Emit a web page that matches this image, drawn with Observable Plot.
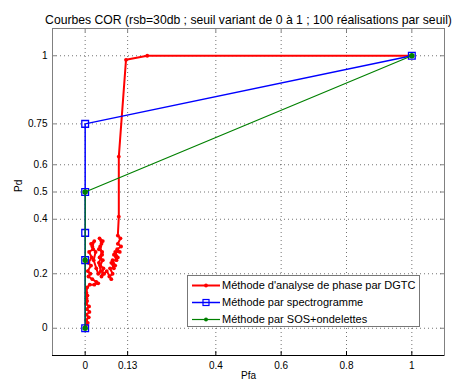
<!DOCTYPE html>
<html><head><meta charset="utf-8">
<script src="https://cdn.jsdelivr.net/npm/d3@7"></script>
<script src="https://cdn.jsdelivr.net/npm/@observablehq/plot@0.6"></script>
<style>
body{margin:0;background:#fff}
svg{font-family:"Liberation Sans",Arial,Helvetica,sans-serif}
</style>
</head><body><div id="chart"></div>
<script>
const titleText = "Courbes COR (rsb=30db ; seuil variant de 0 à 1 ; 100 réalisations par seuil)";
const xLabel = "Pfa";
const yLabel = "Pd";
const xTicks = [0, 0.13, 0.4, 0.6, 0.8, 1];
const yTicks = [0, 0.2, 0.4, 0.5, 0.6, 0.75, 1];
const seriesNames = ["Méthode d'analyse de phase par DGTC", "Méthode par spectrogramme", "Méthode par SOS+ondelettes"];
const seriesColors = ["#ff0000", "#0000ff", "#008000"];

// Méthode DGTC (red)
const redPfa = [1.00, 0.19, 0.125, 0.103, 0.103, 0.100,
  0.108, 0.100, 0.110, 0.098, 0.106, 0.092, 0.100, 0.088, 0.096, 0.084, 0.092, 0.080, 0.088, 0.076, 0.084, 0.074, 0.080,
  0.066, 0.058,
  0.050, 0.056, 0.046, 0.054, 0.044, 0.052, 0.042, 0.050, 0.044, 0.054, 0.046, 0.052, 0.042, 0.048, 0.040,
  0.034,
  0.026, 0.032, 0.022, 0.028, 0.018, 0.024, 0.012, 0.020, 0.010, 0.018, 0.008, 0.016, 0.010, 0.022, 0.034, 0.040, 0.028, 0.014,
  0.006, 0.004, 0.007, 0.004, 0.006, 0.003, 0.012, 0.005, 0.013, 0.004, 0.011, 0.003, 0.008, 0.002, 0.000];
const redPd  = [1.00, 1.00, 0.985, 0.63, 0.41, 0.34,
  0.33, 0.31, 0.30, 0.29, 0.28, 0.28, 0.26, 0.27, 0.25, 0.25, 0.23, 0.24, 0.22, 0.22, 0.20, 0.19, 0.18,
  0.21, 0.20,
  0.19, 0.22, 0.23, 0.25, 0.26, 0.28, 0.29, 0.31, 0.33, 0.32, 0.30, 0.27, 0.24, 0.21, 0.20,
  0.22,
  0.25, 0.28, 0.30, 0.32, 0.31, 0.29, 0.28, 0.26, 0.24, 0.23, 0.21, 0.20, 0.19, 0.18, 0.17, 0.165, 0.16, 0.16,
  0.15, 0.13, 0.12, 0.11, 0.10, 0.09, 0.08, 0.07, 0.06, 0.05, 0.04, 0.03, 0.02, 0.01, 0.00];
// Méthode spectrogramme (blue)
const bluePfa = [1, 0, 0, 0, 0, 0];
const bluePd  = [1, 0.75, 0.5, 0.35, 0.25, 0];
// Méthode SOS+ondelettes (green)
const greenPfa = [1, 0, 0, 0];
const greenPd  = [1, 0.5, 0.25, 0];

const rows = (xs, ys) => xs.map((x, i) => ({x, y: ys[i]}));
const red = rows(redPfa, redPd), blue = rows(bluePfa, bluePd), green = rows(greenPfa, greenPd);

const W = 465, H = 389, mT = 28, mB = 34, mL = 52, mR = 21;
const iw = W - mL - mR, ih = H - mT - mB;
const fmt = d => String(d);

const plot = Plot.plot({
  width: W, height: H,
  marginTop: mT, marginBottom: mB, marginLeft: mL, marginRight: mR,
  style: {fontFamily: '"Liberation Sans",Arial,sans-serif', fontSize: "10px", background: "#fff", color: "#000"},
  x: {domain: [-0.1, 1.1], label: null},
  y: {domain: [-0.1, 1.1], label: null},
  marks: [
    Plot.gridX(xTicks, {stroke: "#000", strokeOpacity: 0.55, strokeDasharray: "1,3"}),
    Plot.gridY(yTicks, {stroke: "#000", strokeOpacity: 0.55, strokeDasharray: "1,3"}),
    Plot.frame({stroke: "#808080"}),
    Plot.ruleY([-0.1], {stroke: "#000"}),
    Plot.tickX(xTicks, {x: d => d, insetTop: ih - 4, stroke: "#000"}),
    Plot.tickX(xTicks, {x: d => d, insetBottom: ih - 4, stroke: "#808080"}),
    Plot.tickY(yTicks, {y: d => d, insetRight: iw - 4, stroke: "#808080"}),
    Plot.tickY(yTicks, {y: d => d, insetLeft: iw - 4, stroke: "#808080"}),
    Plot.axisX(xTicks, {tickSize: 0, tickPadding: 6, tickFormat: fmt, fontSize: 10, label: null}),
    Plot.axisY(yTicks, {tickSize: 0, tickPadding: 5, tickFormat: fmt, fontSize: 10, label: null}),
    Plot.line(red, {x: "x", y: "y", stroke: seriesColors[0], strokeWidth: 2}),
    Plot.dot(red, {x: "x", y: "y", fill: seriesColors[0], r: 1.9}),
    Plot.line(blue, {x: "x", y: "y", stroke: seriesColors[1], strokeWidth: 1.5}),
    Plot.dot(blue, {x: "x", y: "y", symbol: "square", r: 3.8, stroke: seriesColors[1], strokeWidth: 1.3, fill: "none"}),
    Plot.line(green, {x: "x", y: "y", stroke: seriesColors[2], strokeWidth: 1.2}),
    Plot.dot(green, {x: "x", y: "y", fill: seriesColors[2], stroke: seriesColors[2], r: 2}),
    Plot.text([titleText], {frameAnchor: "top", dy: -13, fontSize: 12.2, fill: "#000"}),
    Plot.text([xLabel], {frameAnchor: "bottom", dy: 23, fontSize: 10, fill: "#000"}),
    Plot.text([yLabel], {frameAnchor: "left", dx: -34, rotate: -90, fontSize: 10, fill: "#000"})
  ]
});

// Legend
const svg = d3.select(plot);
const lg = svg.append("g").attr("text-anchor", "start");
lg.append("rect").attr("x", 187.5).attr("y", 275.5).attr("width", 232).attr("height", 51)
  .attr("fill", "#fff").attr("stroke", "#777");
seriesNames.forEach((name, i) => {
  const yy = 285.5 + i * 17;
  lg.append("line").attr("x1", 192).attr("x2", 220).attr("y1", yy).attr("y2", yy)
    .attr("stroke", seriesColors[i]).attr("stroke-width", i === 0 ? 2 : i === 1 ? 1.5 : 1.2);
  if (i === 0) lg.append("circle").attr("cx", 206).attr("cy", yy).attr("r", 1.9).attr("fill", seriesColors[0]);
  if (i === 1) lg.append("rect").attr("x", 203).attr("y", yy - 3).attr("width", 6).attr("height", 6)
    .attr("fill", "none").attr("stroke", seriesColors[1]).attr("stroke-width", 1.2);
  if (i === 2) lg.append("circle").attr("cx", 206).attr("cy", yy).attr("r", 2).attr("fill", seriesColors[2]);
  lg.append("text").attr("x", 222).attr("y", yy).attr("dy", "0.35em").attr("font-size", 11)
    .attr("text-anchor", "start").attr("fill", "#000").text(name);
});

document.getElementById("chart").appendChild(plot);
</script>
</body></html>
